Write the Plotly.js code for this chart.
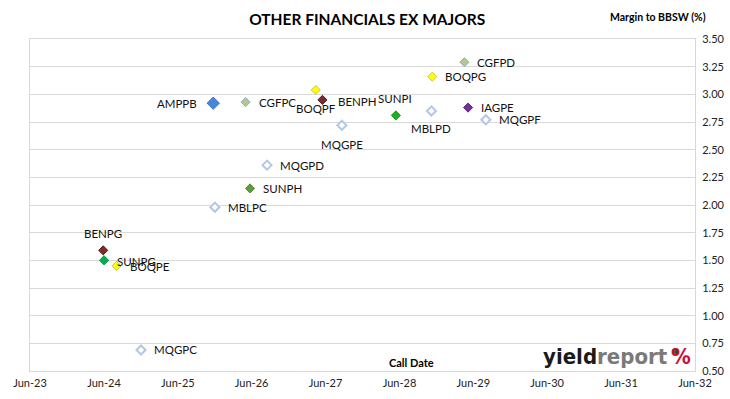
<!DOCTYPE html>
<html>
<head>
<meta charset="utf-8">
<script src="https://cdn.plot.ly/plotly-3.0.1.min.js"></script>
<style>html,body{margin:0;padding:0;background:#fff;}#chart{width:730px;height:399px;}</style>
</head>
<body>
<div id="chart"></div>
<script>
// ---- data ----
const securities = ['AMPPB','CGFPC','BOQPF','BENPH','MQGPE','MQGPD','SUNPH','MBLPC','SUNPI','MBLPD','CGFPD','BOQPG','IAGPE','MQGPF','BENPG','SUNPG','BOQPE','MQGPC'];
const callDates = ['2025-11-23','2026-05-02','2027-04-14','2027-05-17','2027-08-21','2026-08-16','2026-05-24','2025-12-01','2028-05-14','2028-11-06','2029-04-18','2028-11-10','2029-05-06','2029-08-02','2024-05-28','2024-06-01','2024-08-02','2024-12-01'];
const margins = [2.92, 2.93, 3.04, 2.95, 2.72, 2.36, 2.15, 1.98, 2.81, 2.85, 3.29, 3.16, 2.88, 2.77, 1.59, 1.50, 1.45, 0.69];
const xTickRange = ['2023-06-01', '2032-06-01'];
const yTickRange = [0.5, 3.5];

// ---- styles ----
const styleOf = {
  AMPPB: {fill:'#4a86d8', line:'#3e74c0', size:9.5},
  CGFPC: {fill:'#b3c98c', line:'#8fa9c4', size:7},
  CGFPD: {fill:'#b3c98c', line:'#8fa9c4', size:7},
  BOQPF: {fill:'#ffff00', line:'#c9c25a', size:7},
  BOQPG: {fill:'#ffff00', line:'#c9c25a', size:7},
  BOQPE: {fill:'#ffff00', line:'#c9c25a', size:7},
  BENPH: {fill:'#7b2c2c', line:'#5a1e1e', size:7},
  BENPG: {fill:'#7b2c2c', line:'#5a1e1e', size:7},
  SUNPH: {fill:'#5d9b3b', line:'#4f8a30', size:7},
  SUNPI: {fill:'#1fae1f', line:'#169a16', size:7},
  SUNPG: {fill:'#00b050', line:'#009a40', size:7},
  IAGPE: {fill:'#7030a0', line:'#5c2585', size:7},
  MQGPE: {fill:'#ffffff', line:'#b4c6e7', size:7, lw:2},
  MQGPD: {fill:'#ffffff', line:'#b4c6e7', size:7, lw:2},
  MQGPF: {fill:'#ffffff', line:'#b4c6e7', size:7, lw:2},
  MQGPC: {fill:'#ffffff', line:'#b4c6e7', size:7, lw:2},
  MBLPC: {fill:'#ffffff', line:'#b4c6e7', size:7, lw:2},
  MBLPD: {fill:'#ffffff', line:'#b4c6e7', size:7, lw:2}
};
// label placement: [anchor, xshift px, yshift px]
const labelPos = {
  AMPPB:['right',-14,0], CGFPC:['left',11,0], BOQPF:['center',0,-19], BENPH:['left',14,-2],
  MQGPE:['center',0,-19], MQGPD:['left',11,0], SUNPH:['left',11,0], MBLPC:['left',11,0],
  SUNPI:['center',-1,17], MBLPD:['center',0,-18], CGFPD:['left',11,0], BOQPG:['left',11,0],
  IAGPE:['left',11,0], MQGPF:['left',11,0], BENPG:['center',0,17], SUNPG:['left',11,-1],
  BOQPE:['left',11,-1], MQGPC:['left',11,0]
};

const FONT = 'Lato, "Open Sans", "Liberation Sans", sans-serif';
const LOGOFONT = '"Liberation Sans Narrow", "DejaVu Sans Condensed", "Open Sans", sans-serif';
const px2x = p => (p - 30) / 665;
const px2y = p => (371 - p) / 332;

const trace = {
  type: 'scatter',
  mode: 'markers',
  x: callDates,
  y: margins,
  marker: {
    symbol: 'diamond',
    opacity: 1,
    size: securities.map(s => styleOf[s].size),
    color: securities.map(s => styleOf[s].fill),
    line: {color: securities.map(s => styleOf[s].line), width: securities.map(s => styleOf[s].lw || 1)}
  },
  cliponaxis: false,
  hoverinfo: 'skip',
  showlegend: false
};

const labelAnns = securities.map((s, i) => ({
  text: s, x: callDates[i], y: margins[i], xref: 'x', yref: 'y',
  xanchor: labelPos[s][0], yanchor: 'middle', xshift: labelPos[s][1], yshift: labelPos[s][2],
  showarrow: false, font: {family: FONT, size: 11.5, color: '#111'}
}));

const layout = {
  width: 730, height: 399,
  margin: {l: 30, r: 35, t: 39, b: 28},
  paper_bgcolor: '#ffffff', plot_bgcolor: '#ffffff',
  font: {family: FONT, size: 11, color: '#222'},
  title: {text: '<b>OTHER FINANCIALS EX MAJORS</b>', x: 0.503, xref: 'container', xanchor: 'center', y: 0.952, yanchor: 'middle', font: {family: FONT, size: 15.5, color: '#000'}},
  xaxis: {
    type: 'date', range: xTickRange, tick0: '2023-06-01', dtick: 'M12', tickformat: '%b-%y',
    showgrid: false, zeroline: false, showline: true, linecolor: '#d9d9d9', linewidth: 1, mirror: true,
    ticks: 'outside', ticklen: 2, tickcolor: '#ffffff', tickfont: {family: FONT, size: 11, color: '#222'}
  },
  yaxis: {
    side: 'right', range: yTickRange, dtick: 0.25, tickformat: '.2f',
    showgrid: true, gridcolor: '#d9d9d9', gridwidth: 1, zeroline: false,
    showline: true, linecolor: '#d9d9d9', linewidth: 1, mirror: true,
    ticks: 'outside', ticklen: 4, tickcolor: '#ffffff', tickfont: {family: FONT, size: 11, color: '#222'}
  },
  shapes: [
    {type: 'circle', xref: 'paper', yref: 'paper', x0: px2x(672.5), x1: px2x(678.5), y0: px2y(354.5), y1: px2y(348), fillcolor: '#0b6b3a', line: {width: 0}, layer: 'above'}
  ],
  annotations: labelAnns.concat([
    {text: '<b>Margin to BBSW (%)</b>', xref: 'paper', yref: 'paper', x: 0.944, y: 1.066, xanchor: 'center', yanchor: 'middle', showarrow: false, font: {family: FONT, size: 10.5, color: '#000'}},
    {text: '<b>Call Date</b>', xref: 'paper', yref: 'paper', x: 0.573, y: 0.027, xanchor: 'center', yanchor: 'middle', showarrow: false, font: {family: FONT, size: 11, color: '#000'}},
    {text: '<b><span style="color:#1a1a1a">yield</span><span style="color:#7a7a7a">report</span></b>', xref: 'paper', yref: 'paper', x: px2x(670), y: px2y(356), xanchor: 'right', yanchor: 'middle', showarrow: false, font: {family: LOGOFONT, size: 22, color: '#1a1a1a'}},
    {text: '<b>%</b>', xref: 'paper', yref: 'paper', x: px2x(669), y: px2y(356), xanchor: 'left', yanchor: 'middle', showarrow: false, font: {family: LOGOFONT, size: 22, color: '#c8102e'}}
  ])
};

Plotly.newPlot('chart', [trace], layout, {displayModeBar: false, staticPlot: true});
</script>
</body>
</html>
